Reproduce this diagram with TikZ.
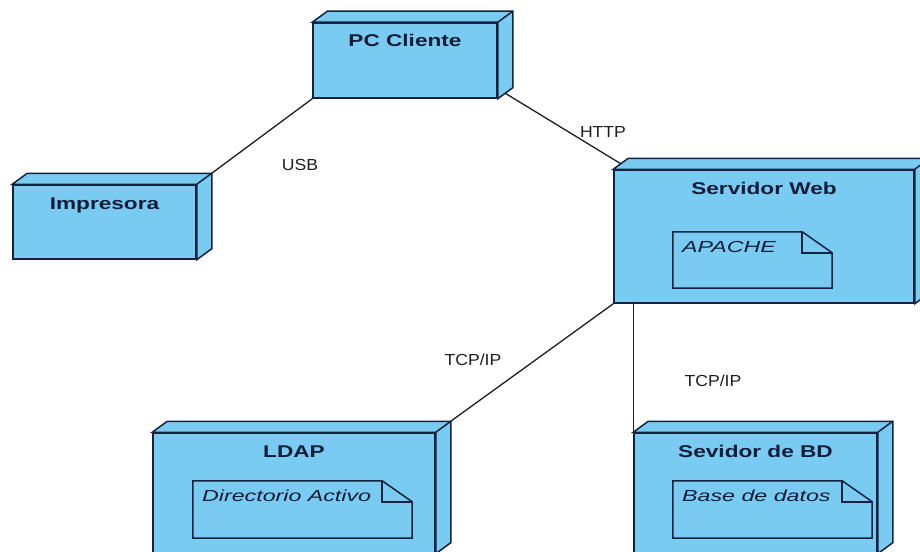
\documentclass[tikz,border=0pt]{standalone}
\usepackage{fontspec}
\setmainfont{Liberation Sans}
\usetikzlibrary{calc}
\definecolor{nodefill}{HTML}{7ACBF1}
\definecolor{nodeline}{HTML}{14223F}
\definecolor{nodetext}{HTML}{101C38}
\definecolor{wirecol}{HTML}{1E1E1E}
\tikzset{
  devbox/.style={draw=nodeline, fill=nodefill, line width=1.5pt, inner sep=0pt, rectangle, line join=miter},
  devface/.style={draw=nodeline, fill=nodefill, line width=1.5pt, line join=miter},
  edgeline/.style={draw=nodeline, line width=1.5pt},
  devtitle/.style={anchor=base, text=nodetext, font=\fontsize{17}{20}\selectfont\bfseries, inner sep=0pt},
  arttext/.style={anchor=base west, text=nodetext, font=\fontsize{16}{19}\selectfont\itshape, inner sep=0pt},
  wire/.style={draw=wirecol, line width=1.3pt},
  wirelabel/.style={text=black!88, font=\fontsize{16}{19}\selectfont, inner sep=0pt},
}
% 3D deployment node: name, left, top, right, bottom, title (pixel-style coordinates)
\newcommand\devnode[6]{%
  \node[devbox, minimum width={#4pt-#2pt}, minimum height={#5pt-#3pt}] (#1) at ({(#2+#4)/2},{(#3+#5)/2}) {};
  \path[devface] (#1.north west) -- ++(15,-11) -- ($(#1.north east)+(15,-11)$)
    -- ($(#1.south east)+(15,-11)$) -- (#1.south east) -- (#1.north east) -- cycle;
  \draw[edgeline] (#1.north east) -- ++(15,-11);
  \coordinate (#1 back) at ($(#1.north east)+(15,-11)$);
  \coordinate (#1 side) at ($(#1.south east)+(7.5,-5.5)$);
  \coordinate (#1 top) at ($(#1.north west)+(7.5,-5.5)$);
  \node[devtitle] (#1 title) at ({(#2+#4)/2},{#3+24}) {\scalebox{1.33}[1]{#6}};
}
% artifact with folded corner: name, left, top, right, bottom, text
\newcommand\artnode[6]{%
  \node[rectangle, inner sep=0pt, minimum width={#4pt-#2pt}, minimum height={#5pt-#3pt}] (#1) at ({(#2+#4)/2},{(#3+#5)/2}) {};
  \draw[devface] (#1.north west) -- ($(#1.north east)+(-30,0)$) -- ($(#1.north east)+(0,21)$)
    -- (#1.south east) -- (#1.south west) -- cycle;
  \draw[edgeline] ($(#1.north east)+(-30,0)$) -- ($(#1.north east)+(-30,21)$) -- ($(#1.north east)+(0,21)$);
  \node[arttext] (#1 label) at ({#2+9},{#3+20.5}) {\scalebox{1.45}[1]{#6}};
}
\begin{document}
\begin{tikzpicture}[x=1pt, y=-1pt]
  \fill[white] (0,0) rectangle (920,551);
  \clip (0,0) rectangle (920,551);

  % devices
  \devnode{pc}{313}{23}{497}{98}{PC Cliente}
  \devnode{imp}{13}{185}{196}{259}{Impresora}
  \devnode{web}{614}{170}{914}{303}{Servidor Web}
  \devnode{ldap}{153}{433}{435}{553}{LDAP}
  \devnode{bd}{634}{433}{877}{553}{Sevidor de BD}

  % deployed artifacts
  \artnode{apache}{673}{232}{832}{288}{APACHE}
  \artnode{dir}{193}{481}{412}{538}{Directorio Activo}
  \artnode{base}{673}{481}{872}{538}{Base de datos}

  % communication paths
  \draw[wire] (imp back) -- (pc.south west);
  \draw[wire] (pc side) -- (web top);
  \draw[wire] (web.south west) -- (ldap back);
  \draw[wire] (bd.north west |- web.south) -- (bd.north west);

  % path labels
  \node[wirelabel] (usb) at (300,165) {\scalebox{1.1}[1]{USB}};
  \node[wirelabel] (http) at (603,132) {\scalebox{1.1}[1]{HTTP}};
  \node[wirelabel] (tcp1) at (473,360) {\scalebox{1.1}[1]{TCP/IP}};
  \node[wirelabel] (tcp2) at (713,381) {\scalebox{1.1}[1]{TCP/IP}};
\end{tikzpicture}
\end{document}
